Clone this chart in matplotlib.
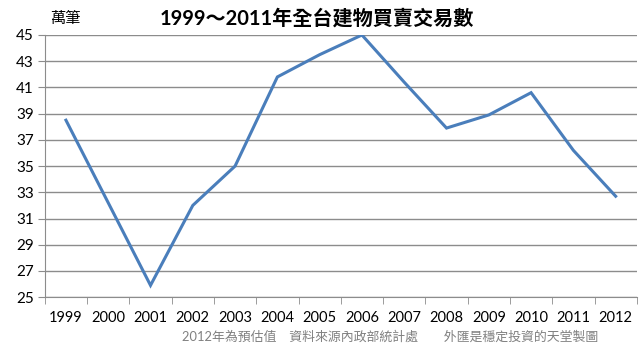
import numpy as np
import matplotlib.pyplot as plt

plt.rcParams['font.family'] = ['Lato', 'Noto Sans CJK TC', 'DejaVu Sans']

years = ['1999', '2000', '2001', '2002', '2003', '2004', '2005',
         '2006', '2007', '2008', '2009', '2010', '2011', '2012']
deals = [38.5, 32.2, 25.9, 32.0, 35.0, 41.8, 43.5,
         45.0, 41.4, 37.9, 38.9, 40.6, 36.2, 32.7]

fig = plt.figure(figsize=(6.4, 3.5), dpi=100)
ax = fig.add_axes([0.070, 0.151, 0.925, 0.749])

x = np.arange(len(years))
ax.plot(x, deals, color='#4a7ebb', lw=2.2, solid_joinstyle='miter')

ax.set_xlim(-0.5, len(years) - 0.5)
ax.set_ylim(25, 45)
ax.set_yticks(np.arange(25, 46, 2))
ax.set_xticks(x)
ax.set_xticklabels(years)
ax.set_xticks(np.arange(-0.5, len(years), 1), minor=True)
ax.tick_params(axis='x', which='major', length=0, pad=10, labelsize=10.5)
ax.tick_params(axis='x', which='minor', length=5, color='#8c8c8c', direction='out')
ax.tick_params(axis='y', length=5, color='#8c8c8c', labelsize=11, pad=3)

ax.grid(axis='y', color='#8c8c8c', lw=1)
ax.set_axisbelow(True)
for s in ['top', 'right']:
    ax.spines[s].set_visible(False)
for s in ['left', 'bottom']:
    ax.spines[s].set_color('#8c8c8c')

fig.text(0.078, 0.947, '萬筆', fontsize=11, ha='left', va='center')
fig.text(0.495, 0.947, '1999～2011年全台建物買賣交易數', fontsize=14.5,
         fontweight='bold', ha='center', va='center')
fig.text(0.61, 0.040, '2012年為預估值　資料來源內政部統計處　　外匯是穩定投資的天堂製圖',
         fontsize=9.3, color='#808080', ha='center', va='center')

fig.savefig('out.png', dpi=100)
